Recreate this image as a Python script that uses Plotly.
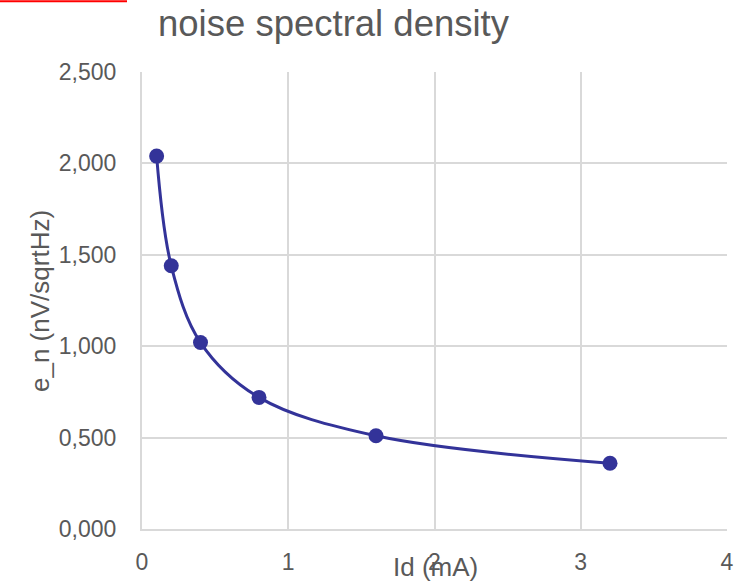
import plotly.graph_objects as go

id_ma = [0.1, 0.2, 0.4, 0.8, 1.6, 3.2]
e_n = [2.04, 1.44, 1.02, 0.72, 0.51, 0.36]
x_ticks = [0, 1, 2, 3, 4]
y_ticks = [0, 0.5, 1.0, 1.5, 2.0, 2.5]

L, R, T, B = 142, 21, 72, 56
W, H = 748, 587
pw, ph = W - L - R, H - T - B

fig = go.Figure()
fig.add_trace(go.Scatter(
    x=id_ma, y=e_n, mode="lines+markers",
    line=dict(color="#333399", width=3, shape="spline", smoothing=1.0),
    marker=dict(color="#333399", size=15),
    showlegend=False,
))

axis_font = dict(family="Liberation Sans, Arial, sans-serif", size=23, color="#595959")
fig.update_layout(
    width=W, height=H,
    margin=dict(l=L, r=R, t=T, b=B),
    paper_bgcolor="white", plot_bgcolor="white",
    separators=",.",
    font=dict(family="Liberation Sans, Arial, sans-serif", color="#595959"),
    xaxis=dict(range=[0, 4], tickvals=x_ticks, showgrid=True, gridcolor="#d9d9d9", gridwidth=2,
               zeroline=False, showline=True, linecolor="#d9d9d9", linewidth=2,
               tickfont=axis_font, ticklabelstandoff=11, ticks=""),
    yaxis=dict(range=[0, 2.5], tickvals=y_ticks, tickformat=".3f", showgrid=True,
               gridcolor="#d9d9d9", gridwidth=2, zeroline=False, showline=True,
               linecolor="#d9d9d9", linewidth=2, tickfont=axis_font,
               ticklabelstandoff=19, ticks=""),
)

fig.add_annotation(text="noise spectral density", xref="paper", yref="paper",
                   x=(333.5 - L) / pw, y=1 + (T - 23) / ph, showarrow=False,
                   xanchor="center", yanchor="middle",
                   font=dict(size=36.5, color="#595959"))
fig.add_annotation(text="Id (mA)", xref="paper", yref="paper",
                   x=(435.5 - L) / pw, y=-(569 - (T + ph)) / ph, showarrow=False,
                   xanchor="center", yanchor="middle",
                   font=dict(size=26, color="#595959"))
fig.add_annotation(text="e_n (nV/sqrtHz)", xref="paper", yref="paper",
                   x=(40 - L) / pw, y=(T + ph - 302) / ph, showarrow=False,
                   xanchor="center", yanchor="middle", textangle=-90,
                   font=dict(size=26, color="#595959"))
fig.add_shape(type="line", xref="paper", yref="paper",
              x0=-L / pw, x1=(127 - L) / pw, y0=1 + (T - 1) / ph, y1=1 + (T - 1) / ph,
              line=dict(color="#ff0000", width=2))

fig.write_html("out.html")
